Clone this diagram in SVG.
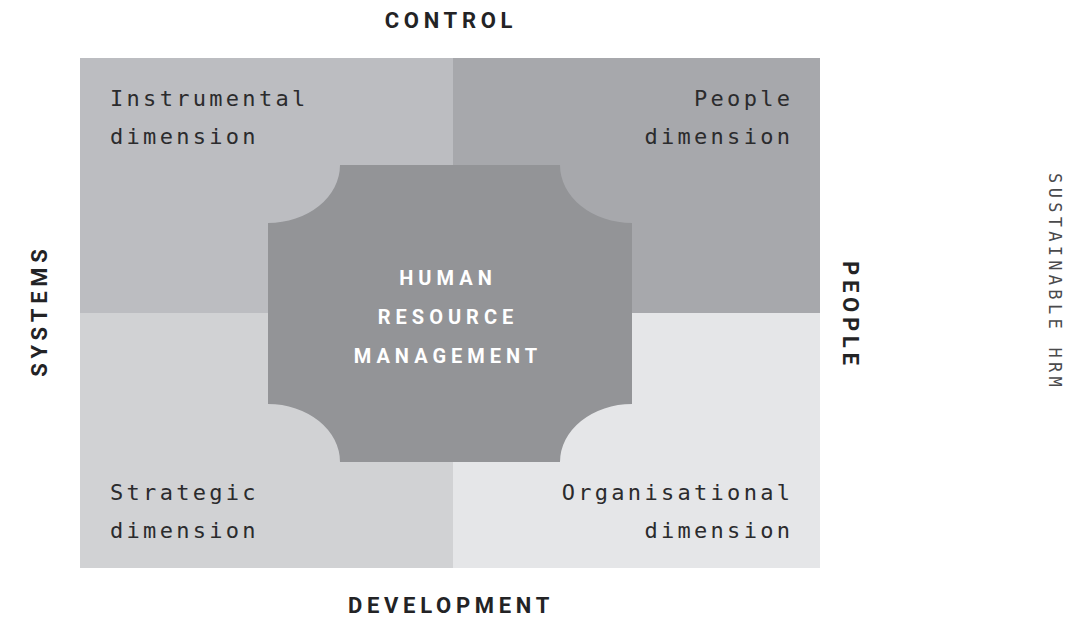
<svg xmlns="http://www.w3.org/2000/svg" width="1082" height="618" viewBox="0 0 1082 618">
<style>
.dim{font-family:"DejaVu Sans Mono","Liberation Mono",monospace;font-size:22px;letter-spacing:3.3px;fill:#2b2b2d}
.axis{font-family:"Roboto","Liberation Sans",sans-serif;font-weight:bold;font-size:22px;letter-spacing:4.7px;fill:#232325}
.hrm{font-family:"Roboto","Liberation Sans",sans-serif;font-weight:bold;font-size:20px;letter-spacing:5px;fill:#ffffff}
.sus{font-family:"DejaVu Sans Mono","Liberation Mono",monospace;font-size:17px;letter-spacing:4.3px;fill:#4a4a4c}
</style>
<rect width="1082" height="618" fill="#ffffff"/>
<g id="instrumental">
<rect x="80" y="58" width="373" height="255" fill="#bcbdc1"/>
<text class="dim" x="110" y="106">Instrumental</text>
<text class="dim" x="110" y="144">dimension</text>
</g>
<g id="people-dim">
<rect x="453" y="58" width="367" height="255" fill="#a7a8ac"/>
<text class="dim" x="793.3" y="106" text-anchor="end">People</text>
<text class="dim" x="793.3" y="144" text-anchor="end">dimension</text>
</g>
<g id="strategic">
<rect x="80" y="313" width="373" height="255" fill="#d1d2d4"/>
<text class="dim" x="110" y="500">Strategic</text>
<text class="dim" x="110" y="538">dimension</text>
</g>
<g id="organisational">
<rect x="453" y="313" width="367" height="255" fill="#e5e6e8"/>
<text class="dim" x="793.3" y="500" text-anchor="end">Organisational</text>
<text class="dim" x="793.3" y="538" text-anchor="end">dimension</text>
</g>
<g id="hrm">
<path d="M340,165 H560 A72,58 0 0 0 632,223 V404 A72,58 0 0 0 560,462 H340 A72,58 0 0 0 268,404 V223 A72,58 0 0 0 340,165 Z" fill="#939497"/>
<text class="hrm" x="448" y="285" text-anchor="middle">HUMAN</text>
<text class="hrm" x="448" y="324" text-anchor="middle">RESOURCE</text>
<text class="hrm" x="448" y="363" text-anchor="middle">MANAGEMENT</text>
</g>
<g id="labels">
<text class="axis" x="451" y="28" text-anchor="middle">CONTROL</text>
<text class="axis" x="451" y="613" text-anchor="middle">DEVELOPMENT</text>
<text class="axis" transform="translate(47,313) rotate(-90)" text-anchor="middle" x="2.3" y="0">SYSTEMS</text>
<text class="axis" transform="translate(843,313) rotate(90)" text-anchor="middle" x="2.3" y="0">PEOPLE</text>
<text class="sus" transform="translate(1049,280) rotate(90)" text-anchor="middle" x="2.1" y="0">SUSTAINABLE HRM</text>
</g>
</svg>
